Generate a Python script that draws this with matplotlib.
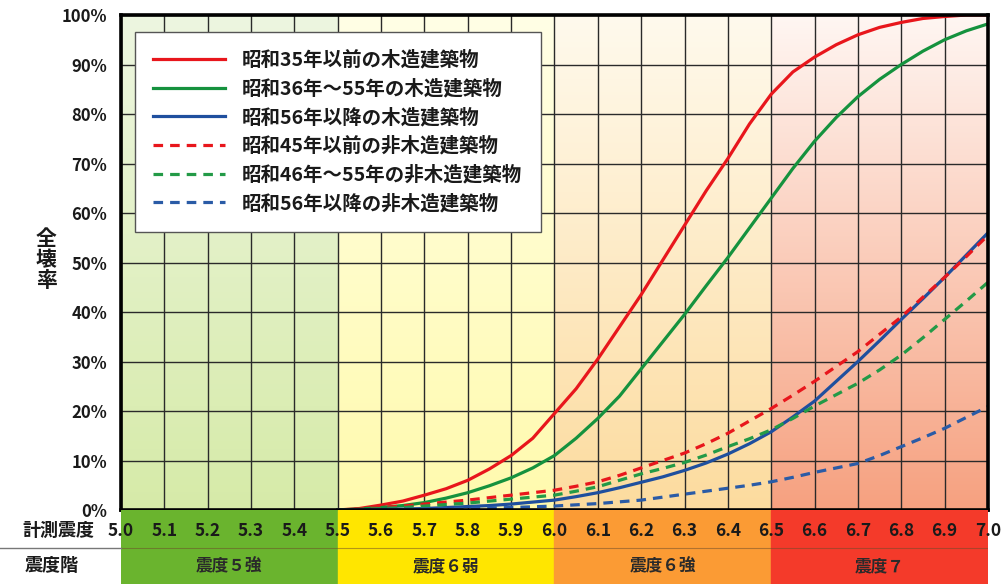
import numpy as np
import matplotlib.pyplot as plt
from matplotlib.lines import Line2D

plt.rcParams['font.family'] = ['Noto Sans CJK JP', 'DejaVu Sans']

# 計測震度
x = [5.5, 5.55, 5.6, 5.65, 5.7, 5.75, 5.8, 5.85, 5.9, 5.95, 6.0,
     6.05, 6.1, 6.15, 6.2, 6.25, 6.3, 6.35, 6.4, 6.45, 6.5,
     6.55, 6.6, 6.65, 6.7, 6.75, 6.8, 6.85, 6.9, 6.95, 7.0]

# 全壊率 (%)
wood_s35 = [0, 0.3, 1.0, 1.8, 3.0, 4.3, 6.0, 8.3, 11.0, 14.5, 19.5,
            24.5, 30.5, 37.0, 43.5, 50.5, 57.5, 64.5, 71.0, 78.0, 84.0,
            88.5, 91.5, 94.0, 96.0, 97.5, 98.5, 99.3, 99.7, 100, 100]
wood_s36_55 = [0, 0.2, 0.5, 0.9, 1.5, 2.4, 3.5, 4.9, 6.5, 8.5, 11.0,
               14.5, 18.5, 23.0, 28.5, 34.0, 39.5, 45.3, 51.0, 57.0, 63.0,
               69.0, 74.5, 79.3, 83.5, 87.0, 90.0, 92.7, 95.0, 96.8, 98.2]
wood_s56 = [0, 0.05, 0.1, 0.2, 0.3, 0.5, 0.7, 0.9, 1.2, 1.6, 2.0,
            2.7, 3.5, 4.5, 5.6, 6.7, 8.0, 9.5, 11.3, 13.4, 15.8,
            18.8, 22.0, 26.0, 30.0, 34.2, 38.5, 42.7, 47.0, 51.5, 56.0]
nonwood_s45 = [0, 0.2, 0.5, 0.8, 1.2, 1.6, 2.0, 2.5, 3.0, 3.5, 4.0,
               4.8, 5.7, 7.0, 8.5, 10.0, 11.5, 13.4, 15.5, 18.0, 20.5,
               23.2, 26.0, 29.0, 32.0, 35.5, 39.0, 43.0, 47.0, 51.2, 55.5]
nonwood_s46_55 = [0, 0.1, 0.3, 0.5, 0.8, 1.1, 1.4, 1.8, 2.2, 2.6, 3.0,
                  3.8, 4.7, 6.0, 7.3, 8.4, 9.6, 11.1, 12.8, 14.4, 16.2,
                  18.5, 21.0, 23.3, 25.6, 28.3, 31.3, 34.8, 38.5, 42.2, 46.0]
nonwood_s56 = [0, 0.05, 0.1, 0.15, 0.2, 0.25, 0.3, 0.4, 0.5, 0.65, 0.8,
               1.05, 1.3, 1.65, 2.0, 2.6, 3.2, 3.8, 4.4, 5.0, 5.7,
               6.6, 7.6, 8.5, 9.4, 11.0, 12.8, 14.6, 16.5, 18.7, 20.9]

labels = ['昭和35年以前の木造建築物', '昭和36年～55年の木造建築物', '昭和56年以降の木造建築物',
          '昭和45年以前の非木造建築物', '昭和46年～55年の非木造建築物', '昭和56年以降の非木造建築物']

# 震度階
zone_edges = [5.0, 5.5, 6.0, 6.5, 7.0]
zone_names = ['震度５強', '震度６弱', '震度６強', '震度７']
zone_band = ['#6ab42e', '#ffe600', '#fb9b34', '#f43a2a']
zone_top = [(0.93, 0.965, 0.88), (1.0, 1.0, 0.9), (1.0, 0.98, 0.93), (1.0, 0.965, 0.95)]
zone_bottom = [(0.84, 0.92, 0.66), (1.0, 0.98, 0.68), (0.99, 0.86, 0.62), (0.965, 0.63, 0.5)]

x_ticks = [5.0, 5.1, 5.2, 5.3, 5.4, 5.5, 5.6, 5.7, 5.8, 5.9, 6.0,
           6.1, 6.2, 6.3, 6.4, 6.5, 6.6, 6.7, 6.8, 6.9, 7.0]

fig = plt.figure(figsize=(10.03, 5.84), dpi=100)
ax = fig.add_axes([0.1206, 0.1267, 0.8644, 0.8476])

# 背景グラデーション
for i in range(4):
    t = np.linspace(0, 1, 256)[:, None]
    top = np.array(zone_top[i])
    bot = np.array(zone_bottom[i])
    grad = (bot * (1 - t) + top * t).reshape(256, 1, 3)
    ax.imshow(grad, extent=(zone_edges[i], zone_edges[i + 1], 0, 100),
              origin='lower', aspect='auto', zorder=0, interpolation='bilinear')

ax.set_xlim(5.0, 7.0)
ax.set_ylim(0, 100)
ax.set_xticks(x_ticks)
ax.set_yticks(range(0, 101, 10))
ax.grid(True, color='#2a2a2a', linewidth=1.0, zorder=1)
ax.set_axisbelow(False)
ax.tick_params(axis='x', length=0, labelbottom=False)
ax.tick_params(axis='y', length=0, pad=10)
ax.set_yticklabels([f'{v}%' for v in range(0, 101, 10)], fontsize=12,
                   fontweight='bold', color='#1a1a1a')
for s in ax.spines.values():
    s.set_linewidth(2.6)
    s.set_color('black')
    s.set_zorder(5)

lw = 2.3
dash = (0, (3.0, 2.2))
ax.plot(x, wood_s35, color='#e8161c', lw=lw, zorder=3, label=labels[0])
ax.plot(x, wood_s36_55, color='#15923e', lw=lw, zorder=3, label=labels[1])
ax.plot(x, wood_s56, color='#1f4f9e', lw=lw, zorder=3, label=labels[2])
ax.plot(x, nonwood_s45, color='#e8161c', lw=lw, ls=dash, zorder=3, label=labels[3])
ax.plot(x, nonwood_s46_55, color='#239a47', lw=lw, ls=dash, zorder=3, label=labels[4])
ax.plot(x, nonwood_s56, color='#2a5ba6', lw=lw, ls=dash, zorder=3, label=labels[5])

leg = ax.legend(loc='upper left', bbox_to_anchor=(0.016, 0.966),
                prop={'size': 14, 'weight': 'semibold'},
                handlelength=3.7, handletextpad=0.85, labelspacing=0.47,
                borderpad=0.95, borderaxespad=0, fancybox=False, framealpha=1,
                edgecolor='#555555')
leg.get_frame().set_linewidth(1.0)
leg.set_zorder(10)
for t in leg.get_texts():
    t.set_color('#1a1a1a')

fig.text(0.046, 0.555, '全\n壊\n率', fontsize=15, fontweight='bold', ha='center',
         va='center', linespacing=1.0, color='#1a1a1a')

# 下の帯
bx = fig.add_axes([0.1206, 0, 0.8644, 0.1267])
bx.set_xlim(5.0, 7.0)
bx.set_ylim(0, 1)
bx.axis('off')
for i in range(4):
    bx.axvspan(zone_edges[i], zone_edges[i + 1], color=zone_band[i], zorder=0)
    bx.text((zone_edges[i] + zone_edges[i + 1]) / 2, 0.24, zone_names[i],
            ha='center', va='center', fontsize=12, fontweight='bold', color='#2a2a2a')
for v in x_ticks:
    bx.text(v, 0.72, f'{v:.1f}', ha='center', va='center', fontsize=12.5,
            fontweight='bold', color='#1a1a1a', clip_on=False)
bx.axhline(0.48, color='#6a4a2a', lw=0.8, alpha=0.5)

fig.add_artist(Line2D([0, 0.1206], [0.061, 0.061], color='#777777', lw=1.0))
fig.text(0.058, 0.091, '計測震度', ha='center', va='center', fontsize=13,
         fontweight='bold', color='#1a1a1a')
fig.text(0.052, 0.032, '震度階', ha='center', va='center', fontsize=13,
         fontweight='bold', color='#1a1a1a')

fig.savefig('out.png', dpi=100)
